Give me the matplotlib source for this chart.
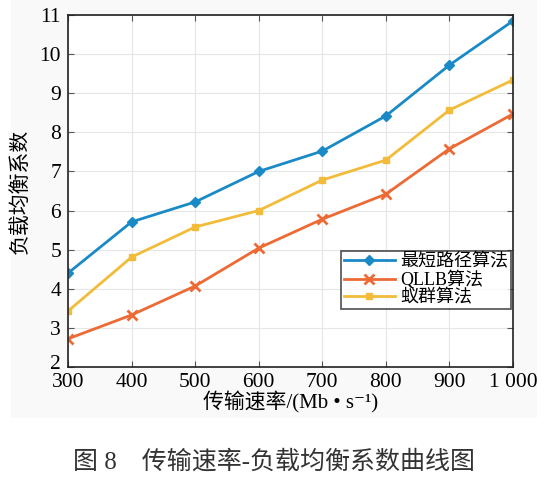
import matplotlib
matplotlib.use("Agg")
import matplotlib.pyplot as plt
import matplotlib.transforms as mtransforms
from matplotlib.patches import Rectangle

x = [300, 400, 500, 600, 700, 800, 900, 1000]
x_labels = ["300", "400", "500", "600", "700", "800", "900", "1 000"]
shortest = [4.40, 5.71, 6.22, 7.00, 7.52, 8.42, 9.72, 10.85]
qllb = [2.72, 3.33, 4.07, 5.04, 5.78, 6.42, 7.58, 8.47]
ant = [3.43, 4.81, 5.58, 6.00, 6.78, 7.29, 8.57, 9.34]
names = ["最短路径算法", "QLLB算法", "蚁群算法"]

fam = ["Liberation Serif", "Noto Sans CJK SC", "DejaVu Sans"]
plt.rcParams['font.family'] = fam

fig = plt.figure(figsize=(5.48, 4.78), dpi=100)
fig.patches.append(Rectangle((11/548, 1-418/478), 526/548, 418/478,
                             transform=fig.transFigure, facecolor="#f9f9f9",
                             edgecolor="none", zorder=-10))
ax = fig.add_axes([68/548, 1-367/478, 445/548, 352/478])
ax.set_facecolor("white")

c_blue = "#1a8ac6"
c_red = "#ee6a35"
c_yel = "#f2bc3a"
ax.plot(x, shortest, color=c_blue, lw=2, marker="D", ms=5.5, label=names[0])
ax.plot(x, qllb, color=c_red, lw=2, marker="x", ms=7, mew=2, label=names[1])
ax.plot(x, ant, color=c_yel, lw=2, marker="s", ms=5, label=names[2])

ax.set_xlim(300, 1000)
ax.set_ylim(2, 11)
ax.set_xticks(x)
ax.set_xticklabels(x_labels)
ax.set_yticks(range(2, 12))
ax.tick_params(direction="in", top=True, right=True, labelsize=15.5, length=4,
               color="#555555", pad=4)
ax.tick_params(axis="y", pad=5)
ax.grid(True, color="#e6e6e6", lw=0.8)
for s in ax.spines.values():
    s.set_linewidth(1.2)
    s.set_color("#222222")

# nudge the lowest y tick label up a little, as in the reference
first = ax.get_yticklabels()[0]
first.set_transform(first.get_transform() +
                    mtransforms.ScaledTranslation(0, 5/100, fig.dpi_scale_trans))

ax.set_xlabel("传输速率/(Mb • s⁻¹)", fontsize=15, labelpad=0)
ax.set_ylabel("负载均衡系数", fontsize=15, labelpad=6)

leg = ax.legend(loc="lower right", bbox_to_anchor=(0.995, 0.165), fontsize=13,
                frameon=True, fancybox=False, edgecolor="#222222",
                handlelength=2.8, borderpad=0.15, labelspacing=0.0,
                handletextpad=0.3, borderaxespad=0)
leg.get_frame().set_linewidth(1.2)

fig.text(0.5, 1-462/478, "图 8    传输速率-负载均衡系数曲线图", ha="center", va="center",
         fontsize=18, color="#333333")

fig.savefig("out.png", dpi=100)
